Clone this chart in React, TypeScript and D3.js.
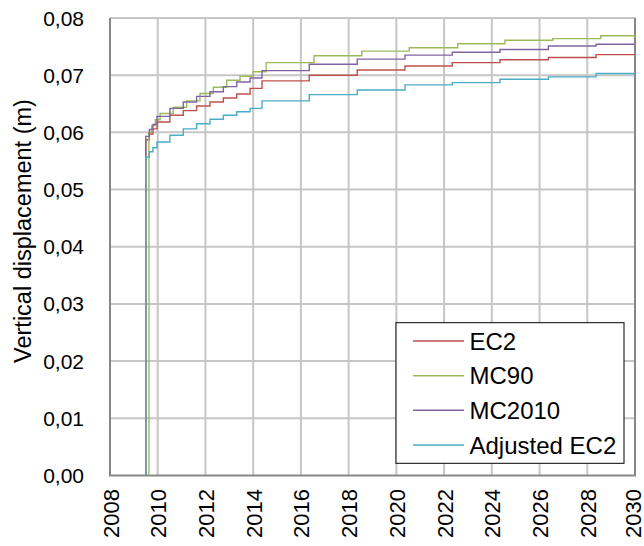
import React from "react";
import * as d3 from "d3";

const xTickYears = [2008, 2010, 2012, 2014, 2016, 2018, 2020, 2022, 2024, 2026, 2028, 2030];
const yTickValues = [0, 0.01, 0.02, 0.03, 0.04, 0.05, 0.06, 0.07, 0.08];

const seriesNames = ["EC2", "MC90", "MC2010", "Adjusted EC2"];
const seriesColors = ["#C0504D", "#9BBB59", "#8064A2", "#4BACC6"];

const commonTimes = [2009.5, 2009.5, 2009.65, 2009.8, 2009.97, 2010.51, 2011.07, 2011.63, 2012.19, 2012.75, 2013.31, 2013.87, 2014.37, 2016.35, 2018.36, 2020.36, 2022.34, 2024.34, 2026.37, 2028.37, 2030];
const mc90Times = [2009.63, 2009.63, 2009.75, 2009.9, 2010.1, 2010.65, 2011.21, 2011.77, 2012.33, 2012.89, 2013.45, 2014.0, 2014.54, 2016.55, 2018.55, 2020.54, 2022.57, 2024.55, 2026.55, 2028.56, 2030];

const ec2Values = [0, 0.0587, 0.0597, 0.0606, 0.0618, 0.063, 0.0638, 0.0646, 0.0653, 0.066, 0.0667, 0.0677, 0.069, 0.07, 0.0709, 0.0716, 0.0722, 0.0727, 0.0731, 0.0736, 0.0736];
const mc90Values = [0, 0.06, 0.0612, 0.0622, 0.0633, 0.0644, 0.0655, 0.0668, 0.0679, 0.0691, 0.0698, 0.0706, 0.0722, 0.0734, 0.0742, 0.0748, 0.0755, 0.0761, 0.0764, 0.0769, 0.077];
const mc2010Values = [0, 0.0593, 0.0605, 0.0614, 0.0628, 0.0642, 0.0653, 0.0663, 0.0671, 0.068, 0.0688, 0.0695, 0.0708, 0.0719, 0.0728, 0.0735, 0.074, 0.0745, 0.0751, 0.0754, 0.0754];
const adjEc2Values = [0, 0.0557, 0.0566, 0.0573, 0.0583, 0.0595, 0.0606, 0.0615, 0.0623, 0.063, 0.0636, 0.0642, 0.0655, 0.0666, 0.0674, 0.0683, 0.0687, 0.0693, 0.0697, 0.0703, 0.0703];

const seriesTimes = [commonTimes, mc90Times, commonTimes, commonTimes];
const seriesValues = [ec2Values, mc90Values, mc2010Values, adjEc2Values];

const W = 644;
const H = 546;
const M = { left: 110, right: 635, top: 18, bottom: 475.4 };
const FONT = "'Liberation Sans', Arial, sans-serif";

export default function App() {
  const x = d3.scaleLinear().domain([2008, 2030]).range([M.left, M.right]);
  const y = d3.scaleLinear().domain([0, 0.08]).range([M.bottom, M.top]);
  const line = d3
    .line<[number, number]>()
    .x((d) => x(d[0]))
    .y((d) => y(d[1]))
    .curve(d3.curveStepAfter);
  const fmt = (v: number) => v.toFixed(2).replace(".", ",");

  const legendX = 396;
  const legendY = 322.7;
  const legendW = 228;
  const legendH = 140.6;
  const rowY = [341, 375.7, 410.3, 445];

  return (
    <svg
      width={W}
      height={H}
      style={{ position: "absolute", left: 0, top: 0, background: "#fff" }}
      fontFamily={FONT}
    >
      <rect x={0} y={0} width={W} height={H} fill="#fff" />
      {/* grid */}
      {xTickYears.slice(1, -1).map((t) => (
        <line key={"gx" + t} x1={x(t)} x2={x(t)} y1={M.top} y2={M.bottom} stroke="#c6c6c6" strokeWidth={2} />
      ))}
      {yTickValues.slice(1).map((v) => (
        <line key={"gy" + v} x1={M.left} x2={M.right} y1={y(v)} y2={y(v)} stroke="#c6c6c6" strokeWidth={2} />
      ))}
      {/* axes frame */}
      <line x1={M.left} x2={M.left} y1={M.top} y2={M.bottom} stroke="#878787" strokeWidth={2} />
      <line x1={M.right} x2={M.right} y1={M.top} y2={M.bottom} stroke="#878787" strokeWidth={2} />
      <line x1={M.left - 1} x2={M.right + 1} y1={M.bottom} y2={M.bottom} stroke="#878787" strokeWidth={2} />
      {/* series */}
      {seriesValues.map((vals, i) => {
        const pts: [number, number][] = vals.map((v, j) => [seriesTimes[i][j], v]);
        return (
          <path key={"s" + i} d={line(pts) || ""} fill="none" stroke={seriesColors[i]} strokeWidth={1.4} />
        );
      })}
      {/* y ticks */}
      {yTickValues.map((v) => (
        <text key={"yt" + v} x={84} y={y(v)} textAnchor="end" dominantBaseline="central" fontSize={21} fill="#000">
          {fmt(v)}
        </text>
      ))}
      {/* x ticks */}
      {xTickYears.map((t) => (
        <text
          key={"xt" + t}
          transform={`translate(${Math.min(x(t) + 1, 633)},489) rotate(-90)`}
          textAnchor="end"
          dominantBaseline="central"
          fontSize={22}
          fill="#000"
        >
          {t}
        </text>
      ))}
      {/* y title */}
      <text
        transform={`translate(23,231) rotate(-90)`}
        textAnchor="middle"
        dominantBaseline="central"
        fontSize={23.5}
        fill="#000"
      >
        Vertical displacement (m)
      </text>
      {/* legend */}
      <rect x={legendX} y={legendY} width={legendW} height={legendH} fill="#fff" stroke="#000" strokeWidth={1} />
      {seriesNames.map((n, i) => (
        <g key={"lg" + i}>
          <line x1={413} x2={464} y1={rowY[i]} y2={rowY[i]} stroke={seriesColors[i]} strokeWidth={1.4} />
          <text x={469.5} y={rowY[i]} dominantBaseline="central" fontSize={24} fill="#000">
            {n}
          </text>
        </g>
      ))}
    </svg>
  );
}
